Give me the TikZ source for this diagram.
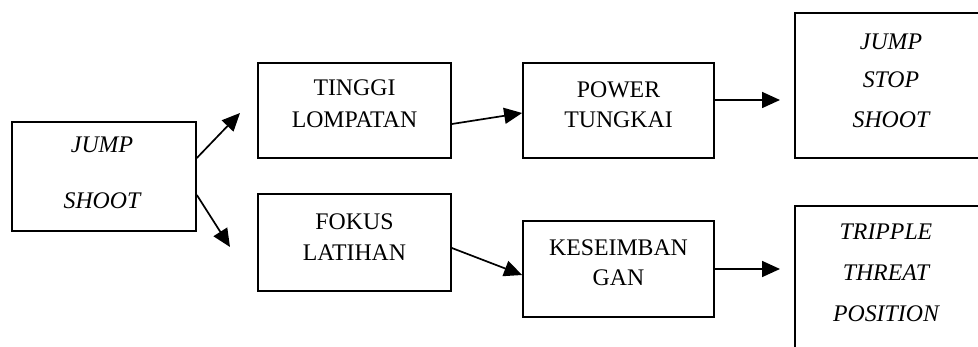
\documentclass[tikz,border=0pt]{standalone}
\usepackage{fontspec}
\setmainfont{Liberation Serif}
\usetikzlibrary{arrows.meta}
\begin{document}
\begin{tikzpicture}[x=1pt,y=-1pt,
  box/.style={draw=black, line width=1.7pt, rectangle, inner sep=0pt},
  lbl/.style={inner sep=0pt, text height=15.6pt, text depth=0pt, font=\fontsize{23.8}{28}\selectfont},
  ilbl/.style={lbl, font=\fontsize{23.8}{28}\selectfont\itshape},
  arr/.style={line width=1.7pt, -{Triangle[length=18pt,width=16pt]}}
]
\useasboundingbox (0,0) rectangle (978,347);
\clip (0,0) rectangle (978,347);
\fill[white] (0,0) rectangle (978,347);
% boxes
\node[box, minimum width=184pt, minimum height=109pt] (A) at (104,176.5) {};
\node[box, minimum width=193pt, minimum height=95pt] (B) at (354.5,110.5) {};
\node[box, minimum width=191pt, minimum height=95pt] (C) at (618.5,110.5) {};
\node[box, minimum width=195pt, minimum height=145pt] (D) at (892.5,85.5) {};
\node[box, minimum width=193pt, minimum height=97pt] (E) at (354.5,242.5) {};
\node[box, minimum width=191pt, minimum height=96pt] (F) at (618.5,269) {};
\node[box, minimum width=195pt, minimum height=164pt] (G) at (892.5,288) {};
% texts
\node[ilbl] (a1) at (102,145) {JUMP};
\node[ilbl] (a2) at (102,201) {SHOOT};
\node[lbl] (b1) at (354.5,88) {TINGGI};
\node[lbl] (b2) at (354.5,120) {LOMPATAN};
\node[lbl] (c1) at (618.5,90) {POWER};
\node[lbl] (c2) at (618.5,120) {TUNGKAI};
\node[ilbl] (d1) at (891,42) {JUMP};
\node[ilbl] (d2) at (891,80) {STOP};
\node[ilbl] (d3) at (891,120) {SHOOT};
\node[lbl] (e1) at (354.5,222) {FOKUS};
\node[lbl] (e2) at (354.5,253) {LATIHAN};
\node[lbl] (f1) at (618.5,248) {KESEIMBAN};
\node[lbl] (f2) at (618.5,278) {GAN};
\node[ilbl] (g1) at (886,232) {TRIPPLE};
\node[ilbl] (g2) at (886,273) {THREAT};
\node[ilbl] (g3) at (886,314) {POSITION};
% arrow ends
\coordinate (t1) at (240,113);
\coordinate (t2) at (230,247);
\coordinate (t3) at (780,100);
\coordinate (t4) at (780,269);
% connectors
\draw[arr] ([yshift=18.5pt]A.east) -- (t1);
\draw[arr] ([yshift=-18.5pt]A.east) -- (t2);
\draw[arr] ([yshift=-13.5pt]B.east) -- ([yshift=-2.5pt]C.west);
\draw[arr] ([yshift=10.5pt]C.east) -- (t3);
\draw[arr] ([yshift=-5.5pt]E.east) -- ([yshift=-6pt]F.west);
\draw[arr] (F.east) -- (t4);
\end{tikzpicture}
\end{document}
